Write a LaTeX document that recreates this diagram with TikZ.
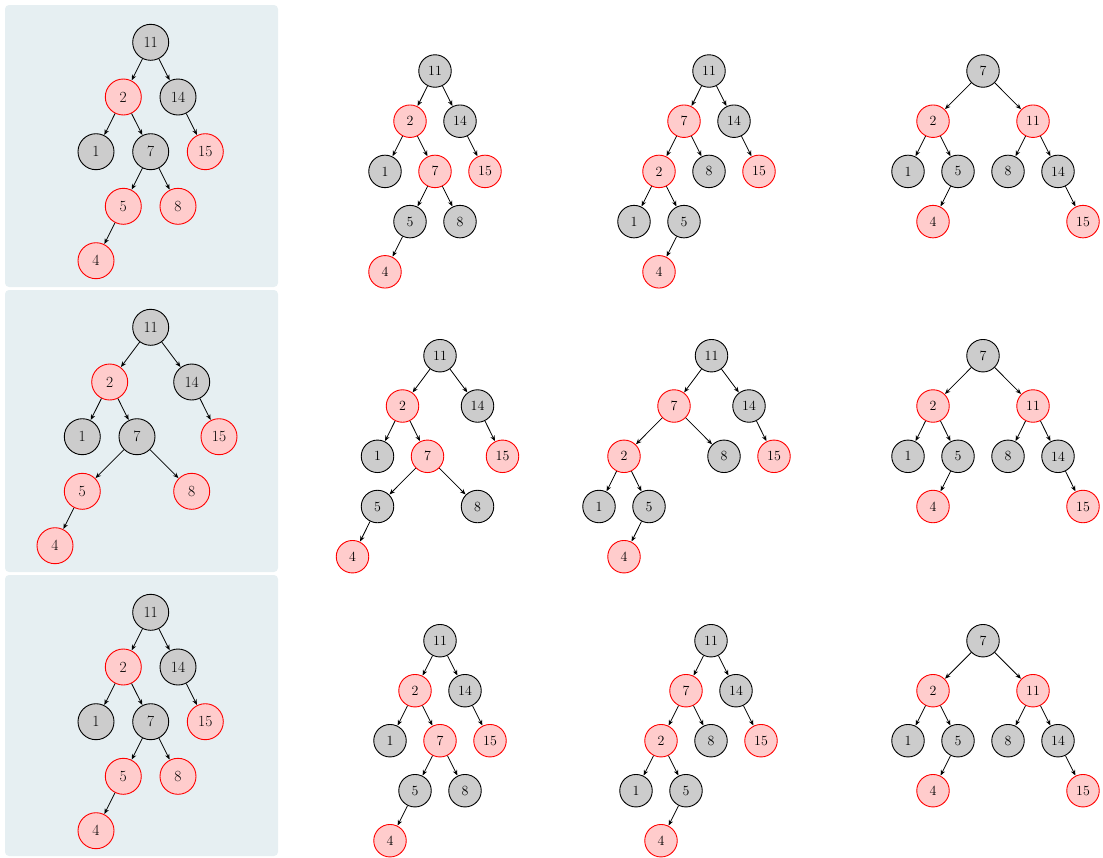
\documentclass[tikz,border=0pt]{standalone}
\usetikzlibrary{arrows.meta}
\definecolor{panelbg}{RGB}{230,239,242}
\definecolor{bfill}{RGB}{204,204,204}
\definecolor{rfill}{RGB}{255,204,204}
\begin{document}
\begin{tikzpicture}[x=1pt,y=-1pt,
  nd/.style={circle,inner sep=0pt,line width=0.9pt,minimum size=32.5pt,font=\fontsize{14}{16}\selectfont},
  bn/.style={nd,draw=black,fill=bfill},
  rn/.style={nd,draw=red,fill=rfill},
  big/.style={minimum size=36pt,font=\fontsize{15.5}{18}\selectfont},
  arr/.style={line width=0.8pt,-{Stealth[length=5.5pt,width=4.5pt]},shorten >=0.3pt},
  panel/.style={fill=panelbg,draw=none,rounded corners=4pt}]
\useasboundingbox (0,0) rectangle (1103,857);
% panels
\path[panel] (5,5) rectangle (278,287);
\path[panel] (5,290) rectangle (278,572);
\path[panel] (5,575) rectangle (278,856);

% ===== Row 1 =====
% panel tree
\node[bn,big] (a0n11) at (150.7,42.3) {11};
\node[rn,big] (a0n2) at (123.3,97) {2};
\node[bn,big] (a0n14) at (178,97) {14};
\node[bn,big] (a0n1) at (96,151.7) {1};
\node[bn,big] (a0n7) at (150.7,151.7) {7};
\node[rn,big] (a0n15) at (205.3,151.7) {15};
\node[rn,big] (a0n5) at (123.3,206.3) {5};
\node[rn,big] (a0n8) at (178,206.3) {8};
\node[rn,big] (a0n4) at (96,260.7) {4};
\draw[arr] (a0n11) -- (a0n2); \draw[arr] (a0n11) -- (a0n14);
\draw[arr] (a0n2) -- (a0n1); \draw[arr] (a0n2) -- (a0n7);
\draw[arr] (a0n14) -- (a0n15); \draw[arr] (a0n7) -- (a0n5);
\draw[arr] (a0n7) -- (a0n8); \draw[arr] (a0n5) -- (a0n4);
% tree 1
\node[bn] (a1n11) at (435,71) {11};
\node[rn] (a1n2) at (410,121.2) {2};
\node[bn] (a1n14) at (460,121.2) {14};
\node[bn] (a1n1) at (385,171.4) {1};
\node[rn] (a1n7) at (435,171.4) {7};
\node[rn] (a1n15) at (485,171.4) {15};
\node[bn] (a1n5) at (410,221.6) {5};
\node[bn] (a1n8) at (460,221.6) {8};
\node[rn] (a1n4) at (385,271.8) {4};
\draw[arr] (a1n11) -- (a1n2); \draw[arr] (a1n11) -- (a1n14);
\draw[arr] (a1n2) -- (a1n1); \draw[arr] (a1n2) -- (a1n7);
\draw[arr] (a1n14) -- (a1n15); \draw[arr] (a1n7) -- (a1n5);
\draw[arr] (a1n7) -- (a1n8); \draw[arr] (a1n5) -- (a1n4);
% tree 2
\node[bn] (a2n11) at (709,71) {11};
\node[rn] (a2n7) at (684,121.2) {7};
\node[bn] (a2n14) at (734,121.2) {14};
\node[rn] (a2n2) at (659,171.4) {2};
\node[bn] (a2n8) at (709,171.4) {8};
\node[rn] (a2n15) at (759,171.4) {15};
\node[bn] (a2n1) at (634,221.6) {1};
\node[bn] (a2n5) at (684,221.6) {5};
\node[rn] (a2n4) at (659,271.8) {4};
\draw[arr] (a2n11) -- (a2n7); \draw[arr] (a2n11) -- (a2n14);
\draw[arr] (a2n7) -- (a2n2); \draw[arr] (a2n7) -- (a2n8);
\draw[arr] (a2n14) -- (a2n15); \draw[arr] (a2n2) -- (a2n1);
\draw[arr] (a2n2) -- (a2n5); \draw[arr] (a2n5) -- (a2n4);
% tree 3
\node[bn] (a3n7) at (983,71) {7};
\node[rn] (a3n2) at (933,121.2) {2};
\node[rn] (a3n11) at (1033,121.2) {11};
\node[bn] (a3n1) at (908,171.4) {1};
\node[bn] (a3n5) at (958,171.4) {5};
\node[bn] (a3n8) at (1008,171.4) {8};
\node[bn] (a3n14) at (1058,171.4) {14};
\node[rn] (a3n4) at (933,221.6) {4};
\node[rn] (a3n15) at (1083,221.6) {15};
\draw[arr] (a3n7) -- (a3n2); \draw[arr] (a3n7) -- (a3n11);
\draw[arr] (a3n2) -- (a3n1); \draw[arr] (a3n2) -- (a3n5);
\draw[arr] (a3n11) -- (a3n8); \draw[arr] (a3n11) -- (a3n14);
\draw[arr] (a3n5) -- (a3n4); \draw[arr] (a3n14) -- (a3n15);

% ===== Row 2 =====
\node[bn,big] (b0n11) at (150.7,327.3) {11};
\node[rn,big] (b0n2) at (109.7,382) {2};
\node[bn,big] (b0n14) at (191.7,382) {14};
\node[bn,big] (b0n1) at (82.3,436.7) {1};
\node[bn,big] (b0n7) at (137,436.7) {7};
\node[rn,big] (b0n15) at (219,436.7) {15};
\node[rn,big] (b0n5) at (82.3,491.3) {5};
\node[rn,big] (b0n8) at (191.7,491.3) {8};
\node[rn,big] (b0n4) at (55,545.7) {4};
\draw[arr] (b0n11) -- (b0n2); \draw[arr] (b0n11) -- (b0n14);
\draw[arr] (b0n2) -- (b0n1); \draw[arr] (b0n2) -- (b0n7);
\draw[arr] (b0n14) -- (b0n15); \draw[arr] (b0n7) -- (b0n5);
\draw[arr] (b0n7) -- (b0n8); \draw[arr] (b0n5) -- (b0n4);
% tree 1
\node[bn] (b1n11) at (440,355.7) {11};
\node[rn] (b1n2) at (402.5,406) {2};
\node[bn] (b1n14) at (477.5,406) {14};
\node[bn] (b1n1) at (377.5,456.3) {1};
\node[rn] (b1n7) at (427.5,456.3) {7};
\node[rn] (b1n15) at (502.5,456.3) {15};
\node[bn] (b1n5) at (377.5,506.5) {5};
\node[bn] (b1n8) at (477.5,506.5) {8};
\node[rn] (b1n4) at (352.5,556.7) {4};
\draw[arr] (b1n11) -- (b1n2); \draw[arr] (b1n11) -- (b1n14);
\draw[arr] (b1n2) -- (b1n1); \draw[arr] (b1n2) -- (b1n7);
\draw[arr] (b1n14) -- (b1n15); \draw[arr] (b1n7) -- (b1n5);
\draw[arr] (b1n7) -- (b1n8); \draw[arr] (b1n5) -- (b1n4);
% tree 2
\node[bn] (b2n11) at (711.5,355.7) {11};
\node[rn] (b2n7) at (674,406) {7};
\node[bn] (b2n14) at (749,406) {14};
\node[rn] (b2n2) at (624,456.3) {2};
\node[bn] (b2n8) at (724,456.3) {8};
\node[rn] (b2n15) at (774,456.3) {15};
\node[bn] (b2n1) at (599,506.5) {1};
\node[bn] (b2n5) at (649,506.5) {5};
\node[rn] (b2n4) at (624,556.7) {4};
\draw[arr] (b2n11) -- (b2n7); \draw[arr] (b2n11) -- (b2n14);
\draw[arr] (b2n7) -- (b2n2); \draw[arr] (b2n7) -- (b2n8);
\draw[arr] (b2n14) -- (b2n15); \draw[arr] (b2n2) -- (b2n1);
\draw[arr] (b2n2) -- (b2n5); \draw[arr] (b2n5) -- (b2n4);
% tree 3
\node[bn] (b3n7) at (983,355.7) {7};
\node[rn] (b3n2) at (933,406) {2};
\node[rn] (b3n11) at (1033,406) {11};
\node[bn] (b3n1) at (908,456.3) {1};
\node[bn] (b3n5) at (958,456.3) {5};
\node[bn] (b3n8) at (1008,456.3) {8};
\node[bn] (b3n14) at (1058,456.3) {14};
\node[rn] (b3n4) at (933,506.5) {4};
\node[rn] (b3n15) at (1083,506.5) {15};
\draw[arr] (b3n7) -- (b3n2); \draw[arr] (b3n7) -- (b3n11);
\draw[arr] (b3n2) -- (b3n1); \draw[arr] (b3n2) -- (b3n5);
\draw[arr] (b3n11) -- (b3n8); \draw[arr] (b3n11) -- (b3n14);
\draw[arr] (b3n5) -- (b3n4); \draw[arr] (b3n14) -- (b3n15);

% ===== Row 3 =====
\node[bn,big] (c0n11) at (150.7,612.3) {11};
\node[rn,big] (c0n2) at (123.3,667) {2};
\node[bn,big] (c0n14) at (178,667) {14};
\node[bn,big] (c0n1) at (96,721.7) {1};
\node[bn,big] (c0n7) at (150.7,721.7) {7};
\node[rn,big] (c0n15) at (205.3,721.7) {15};
\node[rn,big] (c0n5) at (123.3,776.3) {5};
\node[rn,big] (c0n8) at (178,776.3) {8};
\node[rn,big] (c0n4) at (96,830.7) {4};
\draw[arr] (c0n11) -- (c0n2); \draw[arr] (c0n11) -- (c0n14);
\draw[arr] (c0n2) -- (c0n1); \draw[arr] (c0n2) -- (c0n7);
\draw[arr] (c0n14) -- (c0n15); \draw[arr] (c0n7) -- (c0n5);
\draw[arr] (c0n7) -- (c0n8); \draw[arr] (c0n5) -- (c0n4);
% tree 1
\node[bn] (c1n11) at (440,640.7) {11};
\node[rn] (c1n2) at (415,690.7) {2};
\node[bn] (c1n14) at (465,690.7) {14};
\node[bn] (c1n1) at (390,740.7) {1};
\node[rn] (c1n7) at (440,740.7) {7};
\node[rn] (c1n15) at (490,740.7) {15};
\node[bn] (c1n5) at (415,790.7) {5};
\node[bn] (c1n8) at (465,790.7) {8};
\node[rn] (c1n4) at (390,840.7) {4};
\draw[arr] (c1n11) -- (c1n2); \draw[arr] (c1n11) -- (c1n14);
\draw[arr] (c1n2) -- (c1n1); \draw[arr] (c1n2) -- (c1n7);
\draw[arr] (c1n14) -- (c1n15); \draw[arr] (c1n7) -- (c1n5);
\draw[arr] (c1n7) -- (c1n8); \draw[arr] (c1n5) -- (c1n4);
% tree 2
\node[bn] (c2n11) at (711,640.7) {11};
\node[rn] (c2n7) at (686,690.7) {7};
\node[bn] (c2n14) at (736,690.7) {14};
\node[rn] (c2n2) at (661,740.7) {2};
\node[bn] (c2n8) at (711,740.7) {8};
\node[rn] (c2n15) at (761,740.7) {15};
\node[bn] (c2n1) at (636,790.7) {1};
\node[bn] (c2n5) at (686,790.7) {5};
\node[rn] (c2n4) at (661,840.7) {4};
\draw[arr] (c2n11) -- (c2n7); \draw[arr] (c2n11) -- (c2n14);
\draw[arr] (c2n7) -- (c2n2); \draw[arr] (c2n7) -- (c2n8);
\draw[arr] (c2n14) -- (c2n15); \draw[arr] (c2n2) -- (c2n1);
\draw[arr] (c2n2) -- (c2n5); \draw[arr] (c2n5) -- (c2n4);
% tree 3
\node[bn] (c3n7) at (983,640.7) {7};
\node[rn] (c3n2) at (933,690.7) {2};
\node[rn] (c3n11) at (1033,690.7) {11};
\node[bn] (c3n1) at (908,740.7) {1};
\node[bn] (c3n5) at (958,740.7) {5};
\node[bn] (c3n8) at (1008,740.7) {8};
\node[bn] (c3n14) at (1058,740.7) {14};
\node[rn] (c3n4) at (933,790.7) {4};
\node[rn] (c3n15) at (1083,790.7) {15};
\draw[arr] (c3n7) -- (c3n2); \draw[arr] (c3n7) -- (c3n11);
\draw[arr] (c3n2) -- (c3n1); \draw[arr] (c3n2) -- (c3n5);
\draw[arr] (c3n11) -- (c3n8); \draw[arr] (c3n11) -- (c3n14);
\draw[arr] (c3n5) -- (c3n4); \draw[arr] (c3n14) -- (c3n15);
\end{tikzpicture}
\end{document}
